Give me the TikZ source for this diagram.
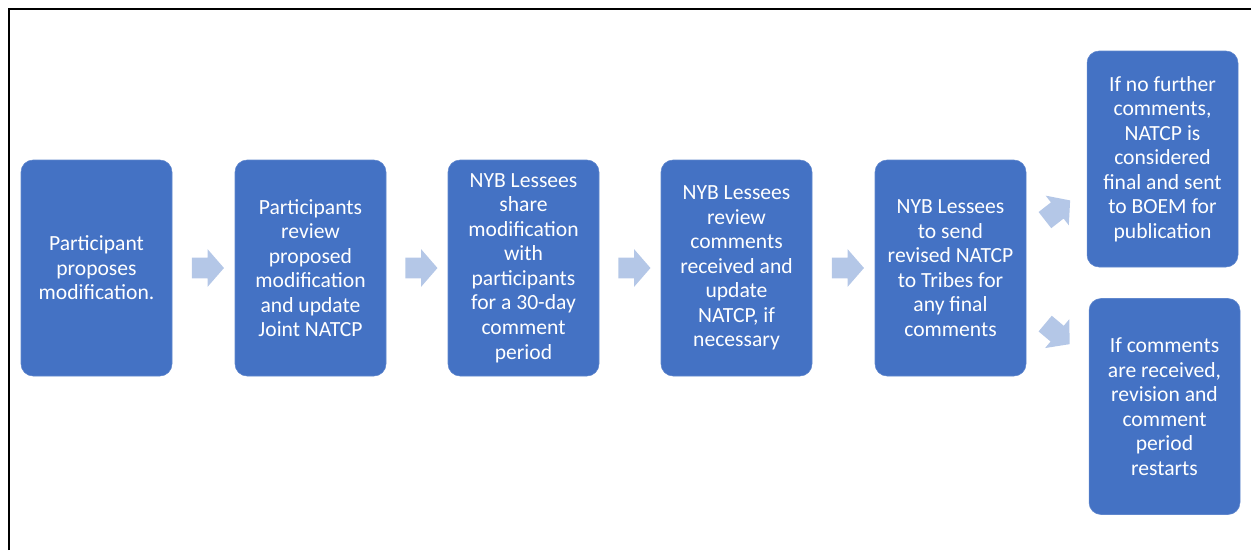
\documentclass[tikz,border=0pt]{standalone}
\usepackage{fontspec}
\setmainfont{Carlito}
\usetikzlibrary{shapes.arrows}
\definecolor{boxblue}{HTML}{4472C4}
\definecolor{arrowblue}{HTML}{B4C7E7}
\tikzset{
  procbox/.style={fill=boxblue, draw=boxblue!85!white, rounded corners=9pt,
    minimum width=113.25pt, minimum height=162pt, inner sep=0pt,
    align=center, text=white, font=\fontsize{16.2}{18.4}\selectfont},
  blockarrow/.style={single arrow, fill=arrowblue, draw=none,
    inner xsep=0pt, inner ysep=7.5pt, text height=0pt, text depth=0pt,
    minimum height=24pt, single arrow head extend=6.4pt,
    single arrow tip angle=98}
}
\begin{document}
\begin{tikzpicture}[x=0.75pt, y=-0.75pt]

  \useasboundingbox (0,0) rectangle (1251,550);
  \draw[line width=1.6pt] (9,550) -- (9,9) -- (1251,9);

  \draw(96.5,268) node[procbox] (A) {Participant\\proposes\\modification.};
  \draw(310.5,268) node[procbox] (B) {Participants\\review\\proposed\\modification\\and update\\Joint NATCP};
  \draw(523.5,268) node[procbox] (C) {NYB Lessees\\share\\modification\\with\\participants\\for a 30-day\\comment\\period};
  \draw(736.5,268) node[procbox] (D) {NYB Lessees\\review\\comments\\received and\\update\\NATCP, if\\necessary};
  \draw(950.5,268) node[procbox] (E) {NYB Lessees\\to send\\revised NATCP\\to Tribes for\\any final\\comments};
  \draw(1162.5,159) node[procbox] (F) {If no further\\comments,\\NATCP is\\considered\\final and sent\\to BOEM for\\publication};
  \draw(1164.5,406.5) node[procbox] (G) {If comments\\are received,\\revision and\\comment\\period\\restarts};

  \path (A.east) -- (B.west) node[midway, blockarrow] (AB) {};
  \path (B.east) -- (C.west) node[midway, blockarrow] (BC) {};
  \path (C.east) -- (D.west) node[midway, blockarrow] (CD) {};
  \path (D.east) -- (E.west) node[midway, blockarrow] (DE) {};
  \draw(1054,213) node[blockarrow, rotate=38] (EF) {};
  \draw(1054,331) node[blockarrow, rotate=-40] (EG) {};

\end{tikzpicture}
\end{document}
